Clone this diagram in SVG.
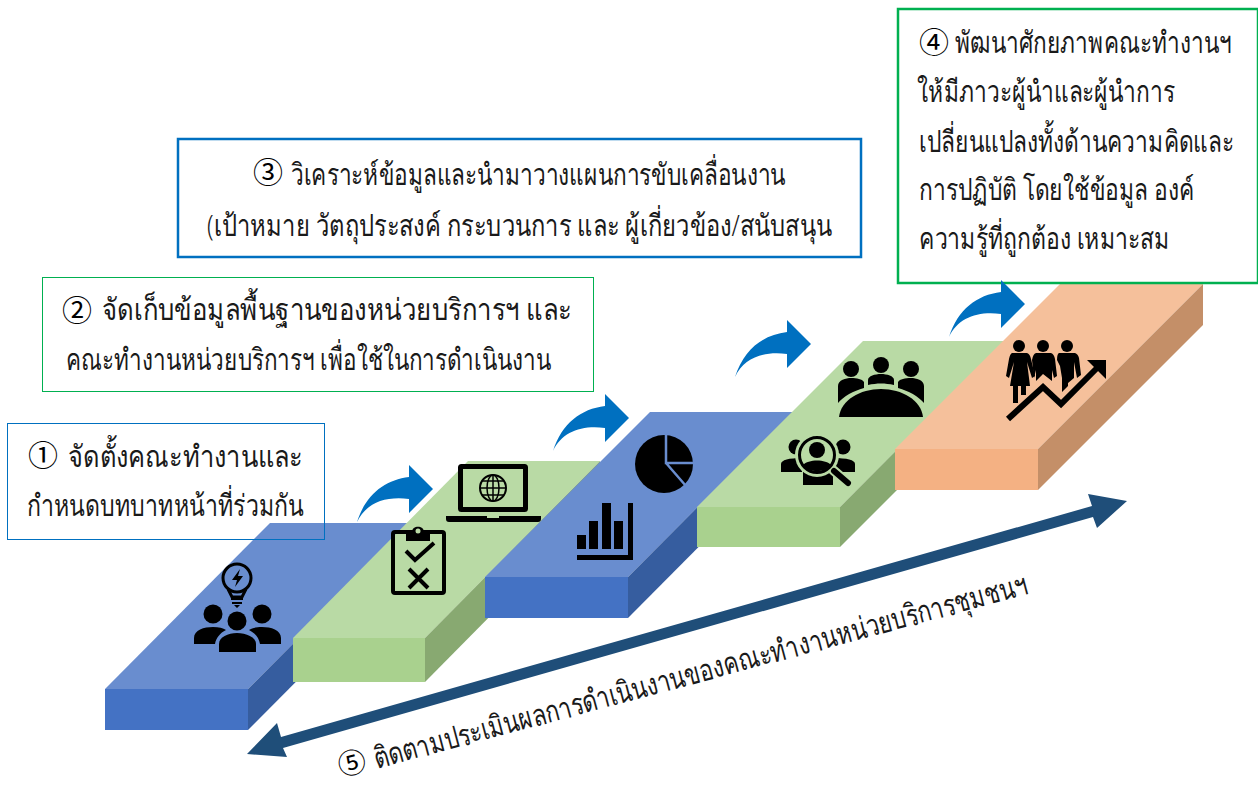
<svg xmlns="http://www.w3.org/2000/svg" xmlns:xlink="http://www.w3.org/1999/xlink" width="1258" height="785" viewBox="0 0 1258 785">
<style>
text{font-family:"Noto Sans","DejaVu Sans",sans-serif;font-size:30px;font-weight:300;fill:#1a1a1a}
.n{font-family:"Noto Sans CJK JP","DejaVu Sans",sans-serif;font-size:30px;font-weight:400;fill:#000}
.bt{fill:#698DCF}.bf{fill:#4472C4}.bs{fill:#365D9F}
.gt{fill:#B9DAA5}.gf{fill:#A9D18E}.gs{fill:#88A971}
.ot{fill:#F5C09B}.of{fill:#F4B183}.os{fill:#C48F68}
.box{fill:none}
.k{fill:#000}.ks{fill:none;stroke:#000}
.flow{fill:#0070C0}
</style>
<defs>
<path id="curve" d="M357 522C366 494 385 480 409 477V465L433 489L409 513V499C385 496 366 503 357 522Z"/>
</defs>
<rect width="1258" height="785" fill="#fff"/>

<g id="step1">
<polygon class="bt" points="105,689 248,689 413,523 270,523"/>
<polygon class="bf" points="105,689 248,689 248,730 105,730"/>
<polygon class="bs" points="248,689 413,523 413,564 248,730"/>
<g id="icon-team">
<circle class="ks" stroke-width="3" cx="237" cy="578" r="14"/>
<path class="ks" stroke-width="3" d="M228 589L232 597H242L246 589"/>
<path class="k" d="M231 598H243V600H231ZM232 602H242V604H232ZM234 605H240L237 608Z"/>
<path class="k" d="M240 569L232 580H237L235 587L243 576H238Z"/>
<circle class="k" cx="213" cy="614" r="9.500"/><circle class="k" cx="262" cy="614" r="9.500"/><circle class="k" cx="237" cy="621" r="9.500"/>
<path class="k" d="M194 644V638C194 630 204 627 213 627C219 627 223 628 226 630C220 633 216 638 215 644Z"/>
<path class="k" d="M281 644V638C281 630 271 627 262 627C256 627 252 628 249 630C255 633 259 638 260 644Z"/>
<path class="k" d="M219 652V644C219 637 228 633 237 633C246 633 256 637 256 644V652Z"/>
</g>
</g>

<g id="step2">
<polygon class="gt" points="293,638 425,638 600,461 468,461"/>
<polygon class="gf" points="293,638 425,638 425,682 293,682"/>
<polygon class="gs" points="425,638 600,461 600,505 425,682"/>
<g id="icon-checklist">
<rect class="ks" stroke-width="4" x="393" y="532" width="51" height="61" rx="2"/>
<path class="k" d="M406 541V532H412C412 525 424 525 424 532H430V541Z"/>
<circle cx="418" cy="531" r="2.500" fill="#B9DAA5"/>
<path class="ks" stroke-width="4" d="M406 551L415 560L434 543"/>
<path class="ks" stroke-width="4" d="M409 569L428 588M428 569L409 588"/>
</g>
<g id="icon-laptop">
<rect class="ks" stroke-width="5" x="460.500" y="466.500" width="65" height="43" rx="1"/>
<path class="k" d="M446 516H487V518H499V516H541V519Q541 522 538 522H449Q446 522 446 519Z"/>
<circle class="ks" stroke-width="2" cx="493" cy="488" r="13"/>
<ellipse class="ks" stroke-width="1.500" cx="493" cy="488" rx="6" ry="13"/>
<path class="ks" stroke-width="1.500" d="M493 475V501M480 488H506M482 481H504M482 495H504"/>
</g>
</g>

<g id="step3">
<polygon class="bt" points="485,577 628,577 792,412 650,412"/>
<polygon class="bf" points="485,577 628,577 628,618 485,618"/>
<polygon class="bs" points="628,577 792,412 792,453 628,618"/>
<g id="icon-pie">
<circle class="k" cx="664" cy="464" r="29"/>
<path fill="none" stroke="#698DCF" stroke-width="2.500" d="M666 433V463H695M666 463L686 486"/>
</g>
<g id="icon-bars">
<path class="k" d="M577 535H586V549H577ZM589 521H598V549H589ZM602 503H611V549H602ZM614 521H623V549H614ZM628 503H633V560H577V555H628Z"/>
</g>
</g>

<g id="step4">
<polygon class="gt" points="697,507 840,507 1005,341 863,341"/>
<polygon class="gf" points="697,507 840,507 840,547 697,547"/>
<polygon class="gs" points="840,507 1005,341 1005,382 840,547"/>
<g id="icon-search">
<circle class="k" cx="796" cy="447" r="7.500"/><circle class="k" cx="843" cy="447" r="7.500"/>
<path class="k" d="M781 472V464C781 460 789 458 802 458V472Z"/>
<path class="k" d="M855 472V464C855 460 847 458 833 458V472Z"/>
<path class="k" d="M803 485V472H833V485Z"/>
<circle cx="817" cy="455" r="22" fill="#B9DAA5"/>
<path stroke="#B9DAA5" stroke-width="10" stroke-linecap="round" d="M833 470L848 483"/>
<circle class="k" cx="817" cy="450" r="8"/>
<path class="k" d="M803 465C808 459 826 459 831 465C826 473 808 473 803 465Z"/>
<circle class="ks" stroke-width="3" cx="817" cy="455" r="17.500"/>
<path class="ks" stroke-width="6" stroke-linecap="round" d="M834 471L848 483"/>
</g>
<g id="icon-meeting">
<circle class="k" cx="851" cy="369" r="8"/><circle class="k" cx="881" cy="365" r="8"/><circle class="k" cx="911" cy="369" r="8"/>
<path class="k" d="M838 403V386C838 380 846 378 851 378C857 378 862 379 864 382V388C853 391 844 396 838 403Z"/>
<path class="k" d="M924 403V386C924 380 916 378 911 378C905 378 900 379 898 382V388C909 391 918 396 924 403Z"/>
<path class="k" d="M868 385V380C868 376 875 374 881 374C887 374 894 376 894 380V385C885 383 877 383 868 385Z"/>
<path class="k" d="M839 417C841 400 860 389 881 389C902 389 921 400 923 417Z"/>
</g>
</g>

<g id="step5">
<polygon class="ot" points="895,449 1038,449 1203,284 1060,284"/>
<polygon class="of" points="895,449 1038,449 1038,490 895,490"/>
<polygon class="os" points="1038,449 1203,284 1203,325 1038,490"/>
<g id="icon-growth">
<circle class="k" cx="1019" cy="346" r="6"/><circle class="k" cx="1043" cy="346" r="6"/><circle class="k" cx="1067" cy="346" r="6"/>
<path class="k" d="M1012 353H1027Q1030 354 1031 359L1035 376L1032 378L1027 362L1030 386H1026V395H1021V386H1018V403H1013V386H1010L1014 362L1009 378L1006 376L1009 359Q1010 354 1012 353Z"/>
<path class="k" d="M1036 353H1051Q1054 354 1055 359L1057 376L1054 378L1052 370V381L1043 374L1036 381V370L1034 378L1032 360Q1033 354 1036 353Z"/>
<path class="k" d="M1059 353H1075Q1078 354 1079 358L1081 375L1077 378L1074 362V378L1068 383V386L1062 392V378L1060 366L1057 360Q1057 354 1059 353Z"/>
<path fill="none" stroke="#F5C09B" stroke-width="10" d="M1012 415L1043 387L1061 404L1090 375"/>
<path class="ks" stroke-width="6" d="M1008 419L1043 387L1061 404L1098 367"/>
<polygon class="k" points="1087,360 1106,360 1106,379"/>
</g>
</g>

<g id="note1">
<rect class="box" x="7.500" y="423.500" width="317" height="116" stroke="#0070C0" stroke-width="1"/>
<text class="n" x="28" y="466">①</text>
<text transform="translate(68 467) scale(.76 1)" textLength="309" lengthAdjust="spacingAndGlyphs">จัดตั้งคณะทำงานและ</text>
<text transform="translate(27 516) scale(.76 1)" textLength="364" lengthAdjust="spacingAndGlyphs">กำหนดบทบาทหน้าที่ร่วมกัน</text>
</g>
<g id="note2">
<rect class="box" x="42.500" y="277.500" width="551" height="114" stroke="#00B050" stroke-width="1"/>
<text class="n" x="62" y="321">②</text>
<text transform="translate(102 320) scale(.76 1)" textLength="618" lengthAdjust="spacingAndGlyphs">จัดเก็บข้อมูลพื้นฐานของหน่วยบริการฯ และ</text>
<text transform="translate(66 370) scale(.76 1)" textLength="638" lengthAdjust="spacingAndGlyphs">คณะทำงานหน่วยบริการฯ เพื่อใช้ในการดำเนินงาน</text>
</g>
<g id="note3">
<rect class="box" x="178" y="139" width="683" height="118" stroke="#0070C0" stroke-width="2.500"/>
<text class="n" x="253" y="183">③</text>
<text transform="translate(291 185) scale(.76 1)" textLength="651" lengthAdjust="spacingAndGlyphs">วิเคราะห์ข้อมูลและนำมาวางแผนการขับเคลื่อนงาน</text>
<text transform="translate(207 236) scale(.76 1)" textLength="822" lengthAdjust="spacingAndGlyphs">(เป้าหมาย วัตถุประสงค์ กระบวนการ และ ผู้เกี่ยวข้อง/สนับสนุน</text>
</g>
<g id="note4">
<rect class="box" x="898" y="9" width="360" height="274" stroke="#00B050" stroke-width="2.500"/>
<text class="n" x="919" y="53">④</text>
<text transform="translate(955 53) scale(.76 1)" textLength="364" lengthAdjust="spacingAndGlyphs">พัฒนาศักยภาพคณะทำงานฯ</text>
<text transform="translate(917 102) scale(.76 1)" textLength="339" lengthAdjust="spacingAndGlyphs">ให้มีภาวะผู้นำและผู้นำการ</text>
<text transform="translate(919 152) scale(.76 1)" textLength="414" lengthAdjust="spacingAndGlyphs">เปลี่ยนแปลงทั้งด้านความคิดและ</text>
<text transform="translate(919 200) scale(.76 1)" textLength="362" lengthAdjust="spacingAndGlyphs">การปฏิบัติ โดยใช้ข้อมูล องค์</text>
<text transform="translate(919 249) scale(.76 1)" textLength="330" lengthAdjust="spacingAndGlyphs">ความรู้ที่ถูกต้อง เหมาะสม</text>
</g>

<g id="connectors">
<use xlink:href="#curve" href="#curve" class="flow"/>
<use xlink:href="#curve" href="#curve" class="flow" transform="translate(196 -71)"/>
<use xlink:href="#curve" href="#curve" class="flow" transform="translate(378 -145)"/>
<use xlink:href="#curve" href="#curve" class="flow" transform="translate(592 -185)"/>
<polygon id="monitor-arrow" fill="#1F4E79" points="247,754 277,723 281,737 1092,506 1088,494 1127,501 1097,528 1093,517 283,748 287,757"/>
</g>

<g id="note5">
<text class="n" style="font-size:28px" transform="translate(341 776.500) rotate(-15)">⑤</text>
<text transform="translate(377 769) rotate(-15) scale(.76 1)" textLength="889" lengthAdjust="spacingAndGlyphs">ติดตามประเมินผลการดำเนินงานของคณะทำงานหน่วยบริการชุมชนฯ</text>
</g>
</svg>
